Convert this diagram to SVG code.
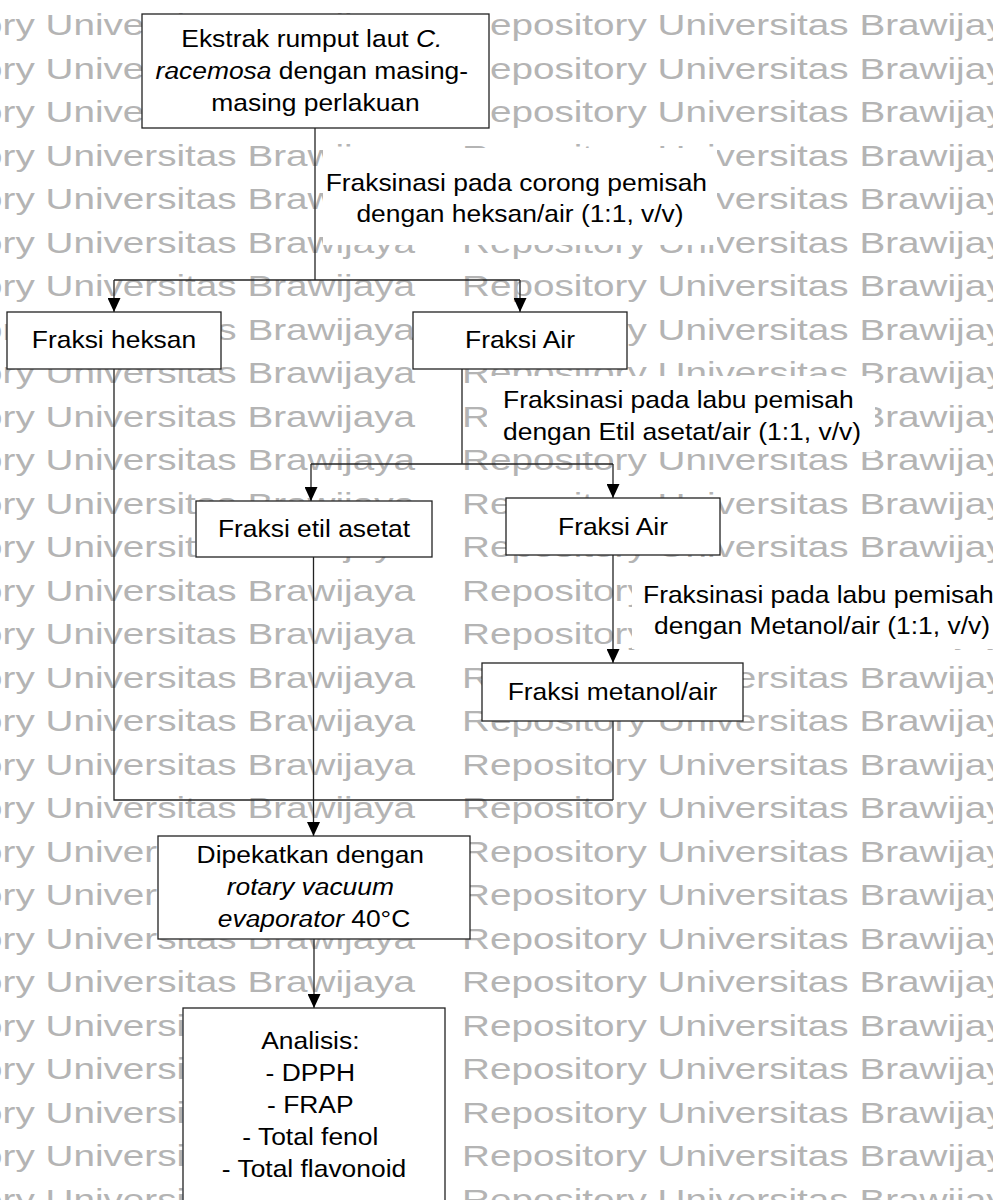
<svg xmlns="http://www.w3.org/2000/svg" xmlns:xlink="http://www.w3.org/1999/xlink" width="993" height="1200" viewBox="0 0 993 1200">
  <style>
    .wm { font-family: "Liberation Sans", Arial, sans-serif; font-size: 30px; fill: #b4b4b4; }
    .box { fill: #ffffff; stroke: #222222; stroke-width: 1.3; }
    .bg { fill: #ffffff; stroke: none; }
    .t { font-family: "Liberation Sans", Arial, sans-serif; font-size: 24px; fill: #000000; text-anchor: middle; }
    .it { font-style: italic; }
    .ln { fill: none; stroke: #222222; stroke-width: 1.3; }
  </style>
  <defs>
    <marker id="arrow" markerUnits="userSpaceOnUse" markerWidth="14" markerHeight="13" refX="14" refY="6.5" orient="auto">
      <path d="M0,0 L14,6.5 L0,13 Z" fill="#000000"/>
    </marker>
    <g id="wmrow">
      <text class="wm" x="-150" y="0" textLength="565" lengthAdjust="spacingAndGlyphs">Repository Universitas Brawijaya</text>
      <text class="wm" x="462" y="0" textLength="565" lengthAdjust="spacingAndGlyphs">Repository Universitas Brawijaya</text>
    </g>
  </defs>

  <rect x="0" y="0" width="993" height="1200" fill="#ffffff"/>

  <!-- background watermark rows -->
  <g id="watermark">
    <use xlink:href="#wmrow" y="-8.5"/>
    <use xlink:href="#wmrow" y="35"/>
    <use xlink:href="#wmrow" y="78.5"/>
    <use xlink:href="#wmrow" y="122"/>
    <use xlink:href="#wmrow" y="165.5"/>
    <use xlink:href="#wmrow" y="209"/>
    <use xlink:href="#wmrow" y="252.5"/>
    <use xlink:href="#wmrow" y="296"/>
    <use xlink:href="#wmrow" y="339.5"/>
    <use xlink:href="#wmrow" y="383"/>
    <use xlink:href="#wmrow" y="426.5"/>
    <use xlink:href="#wmrow" y="470"/>
    <use xlink:href="#wmrow" y="513.5"/>
    <use xlink:href="#wmrow" y="557"/>
    <use xlink:href="#wmrow" y="600.5"/>
    <use xlink:href="#wmrow" y="644"/>
    <use xlink:href="#wmrow" y="687.5"/>
    <use xlink:href="#wmrow" y="731"/>
    <use xlink:href="#wmrow" y="774.5"/>
    <use xlink:href="#wmrow" y="818"/>
    <use xlink:href="#wmrow" y="861.5"/>
    <use xlink:href="#wmrow" y="905"/>
    <use xlink:href="#wmrow" y="948.5"/>
    <use xlink:href="#wmrow" y="992"/>
    <use xlink:href="#wmrow" y="1035.5"/>
    <use xlink:href="#wmrow" y="1079"/>
    <use xlink:href="#wmrow" y="1122.5"/>
    <use xlink:href="#wmrow" y="1166"/>
    <use xlink:href="#wmrow" y="1209.5"/>
  </g>

  <!-- step labels on white panels -->
  <g id="label-heksan">
    <rect class="bg" x="323" y="148" width="394" height="97"/>
    <text class="t" transform="translate(520 0) scale(1.1 1)">
      <tspan x="0" y="191">Fraksinasi pada corong pemisah</tspan>
      <tspan x="0" y="222">dengan heksan/air (1:1, v/v)</tspan>
    </text>
  </g>
  <g id="label-etil">
    <rect class="bg" x="487" y="376" width="388" height="76"/>
    <text class="t" transform="translate(682 0) scale(1.1 1)">
      <tspan x="0" y="408">Fraksinasi pada labu pemisah</tspan>
      <tspan x="0" y="440">dengan Etil asetat/air (1:1, v/v)</tspan>
    </text>
  </g>
  <g id="label-metanol">
    <rect class="bg" x="632" y="572" width="361" height="77"/>
    <text class="t" transform="translate(822 0) scale(1.1 1)">
      <tspan x="0" y="603">Fraksinasi pada labu pemisah</tspan>
      <tspan x="0" y="634">dengan Metanol/air (1:1, v/v)</tspan>
    </text>
  </g>

  <!-- connectors -->
  <g id="connectors">
    <path class="ln" d="M315,128 V280"/>
    <path class="ln" d="M114,280 H520"/>
    <path class="ln" d="M114,280 V312" marker-end="url(#arrow)"/>
    <path class="ln" d="M520,280 V312" marker-end="url(#arrow)"/>
    <path class="ln" d="M114,369 V800 H613"/>
    <path class="ln" d="M462,369 V464"/>
    <path class="ln" d="M311,464 H613"/>
    <path class="ln" d="M311,464 V501" marker-end="url(#arrow)"/>
    <path class="ln" d="M613,464 V498" marker-end="url(#arrow)"/>
    <path class="ln" d="M313.5,557 V836" marker-end="url(#arrow)"/>
    <path class="ln" d="M613,555 V663" marker-end="url(#arrow)"/>
    <path class="ln" d="M613,721 V800"/>
    <path class="ln" d="M314,939 V1008" marker-end="url(#arrow)"/>
  </g>

  <!-- process nodes -->
  <g id="ekstrak">
    <rect class="box" x="142" y="14" width="347" height="114"/>
    <text class="t" transform="translate(315.5 0) scale(1.1 1)">
      <tspan x="0" y="47">Ekstrak rumput laut <tspan class="it">C.</tspan></tspan>
      <tspan x="0" y="79"><tspan class="it">racemosa</tspan> dengan masing-</tspan>
      <tspan x="0" y="111">masing perlakuan</tspan>
    </text>
  </g>
  <g id="fraksi-heksan">
    <rect class="box" x="7" y="312" width="214" height="57"/>
    <text class="t" transform="translate(114 0) scale(1.1 1)"><tspan x="0" y="348">Fraksi heksan</tspan></text>
  </g>
  <g id="fraksi-air-1">
    <rect class="box" x="413" y="312" width="214" height="57"/>
    <text class="t" transform="translate(520 0) scale(1.1 1)"><tspan x="0" y="348">Fraksi Air</tspan></text>
  </g>
  <g id="fraksi-etil-asetat">
    <rect class="box" x="196" y="501" width="236" height="56"/>
    <text class="t" transform="translate(314 0) scale(1.1 1)"><tspan x="0" y="537">Fraksi etil asetat</tspan></text>
  </g>
  <g id="fraksi-air-2">
    <rect class="box" x="506" y="498" width="214" height="57"/>
    <text class="t" transform="translate(613 0) scale(1.1 1)"><tspan x="0" y="535">Fraksi Air</tspan></text>
  </g>
  <g id="fraksi-metanol-air">
    <rect class="box" x="482" y="663" width="261" height="58"/>
    <text class="t" transform="translate(612.5 0) scale(1.1 1)"><tspan x="0" y="700">Fraksi metanol/air</tspan></text>
  </g>
  <g id="dipekatkan">
    <rect class="box" x="158" y="836" width="312" height="103"/>
    <text class="t" transform="translate(314 0) scale(1.1 1)">
      <tspan x="0" y="863">Dipekatkan dengan</tspan>
      <tspan x="0" y="895" class="it">rotary vacuum</tspan>
      <tspan x="0" y="927"><tspan class="it">evaporator</tspan> 40°C</tspan>
    </text>
  </g>
  <g id="analisis">
    <rect class="box" x="183" y="1008" width="262" height="200"/>
    <text class="t" transform="translate(314 0) scale(1.1 1)">
      <tspan x="0" y="1049">Analisis:</tspan>
      <tspan x="0" y="1081">- DPPH</tspan>
      <tspan x="0" y="1113">- FRAP</tspan>
      <tspan x="0" y="1145">- Total fenol</tspan>
      <tspan x="0" y="1177">- Total flavonoid</tspan>
    </text>
  </g>
</svg>
